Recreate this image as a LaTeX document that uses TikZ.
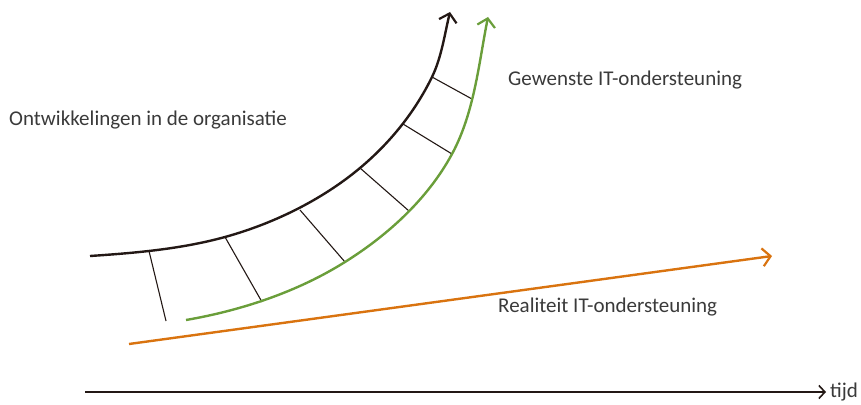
\documentclass[tikz,border=0pt]{standalone}
\usepackage{fontspec}
\setmainfont{Carlito}
\usetikzlibrary{arrows.meta}
\definecolor{curveblack}{HTML}{231815}
\definecolor{curvegreen}{HTML}{6A9E3A}
\definecolor{curveorange}{HTML}{D9730F}
\definecolor{textgray}{HTML}{3A3A3A}
\tikzset{
  tip/.style={-{Straight Barb[length=8pt,width=18pt,line width=2.2pt]}},
  bigcurve/.style={line width=2.4pt, tip},
  hatch/.style={line width=1.1pt, curveblack},
  lbl/.style={font=\fontsize{21}{24}\selectfont, text=textgray, inner sep=0pt},
}
\begin{document}
\begin{tikzpicture}[x=1pt,y=-1pt]
\useasboundingbox (0,0) rectangle (861,404);
% black curve points
\coordinate (b0) at (90,256);
\coordinate (b1) at (149,251);
\coordinate (b2) at (225,237);
\coordinate (b3) at (300,210);
\coordinate (b4) at (360,168);
\coordinate (b5) at (403,124);
\coordinate (b6) at (432,77);
\coordinate (b7) at (450,12);
% green curve points
\coordinate (g0) at (186,320);
\coordinate (g2) at (262,302);
\coordinate (g3) at (345,262);
\coordinate (g4) at (409,211);
\coordinate (g5) at (452,154);
\coordinate (g6) at (472,99);
\coordinate (g7) at (488,17);
\coordinate (h1) at (166,321);
% hatches
\draw[hatch] (b1) -- (h1);
\draw[hatch] (b2) -- (g2);
\draw[hatch] (b3) -- (g3);
\draw[hatch] (b4) -- (g4);
\draw[hatch] (b5) -- (g5);
\draw[hatch] (b6) -- (g6);
% curves
\draw[bigcurve, curveblack] (b0)
  .. controls (135,253) and (181.6,249) .. (b2)
  .. controls (273.2,223.7) and (321.6,200.1) .. (b4)
  .. controls (389.9,143) and (414.9,112.1) .. (b6)
  .. controls (441.6,57.2) and (444.8,33.4) .. (b7);
\draw[bigcurve, curvegreen] (g0)
  .. controls (241.2,310.5) and (297.6,291.8) .. (g3)
  .. controls (388.2,234.9) and (427.7,198.9) .. (g5)
  .. controls (474.4,112.6) and (478.8,63.1) .. (g7);
% orange
\coordinate (o0) at (129,344);
\coordinate (o1) at (772,256);
\draw[bigcurve, curveorange] (o0) -- (o1);
% axis
\coordinate (a0) at (85,392);
\node[lbl, anchor=west] (tijd) at (830,392) {tijd};
\draw[line width=1.4pt, curveblack, -{Straight Barb[length=6pt,width=13pt,line width=1.6pt]}] (a0) -- ([xshift=-4pt]tijd.west);
% labels
\node[lbl, anchor=west] (ont) at (9,120) {Ontwikkelingen in de organisatie};
\node[lbl, anchor=west] (gew) at (508,80) {Gewenste IT-ondersteuning};
\node[lbl, anchor=west] (rea) at (498,307) {Realiteit IT-ondersteuning};
\end{tikzpicture}
\end{document}
